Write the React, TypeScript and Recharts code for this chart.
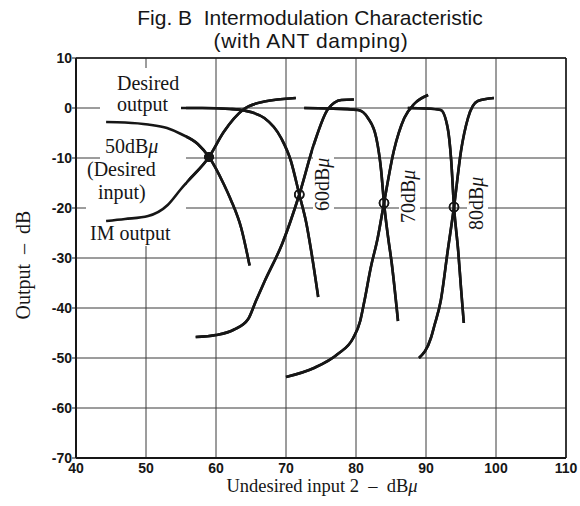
import { CartesianGrid, Line, LineChart, ReferenceDot, ReferenceLine, XAxis, YAxis } from "recharts";

const xTicks = [40, 50, 60, 70, 80, 90, 100, 110];
const yTicks = [10, 0, -10, -20, -30, -40, -50, -60, -70];

// desired output / IM output curves for each desired input (x = undesired input, y = output dB)
const des50 = [[44.3, -2.8], [47, -2.9], [50.3, -3.3], [53, -4], [55, -5.2], [57.4, -7.2], [59, -9.8], [61.1, -15.2], [62.1, -18.3], [63.6, -24], [64.8, -31.5]];
const im50 = [[44.3, -22.6], [47, -22.2], [50.3, -21.6], [53.1, -19.4], [55, -16.2], [56, -14.6], [59, -9.8], [61.1, -4.8], [63.9, -0.3], [66.9, 1.3], [71.4, 2]];
const des60 = [[55, 0], [58, 0], [62, -0.2], [64, -0.5], [66.9, -2], [69.3, -6], [70.7, -10.6], [71.9, -17.3], [72.9, -23], [73.6, -28.6], [74.6, -37.8]];
const im60 = [[57.1, -45.8], [60, -45.4], [62.6, -44.3], [64.6, -42.2], [65.7, -38.6], [66.9, -34.8], [69.5, -27], [71.9, -17.3], [74, -7.2], [76, -0.2], [77.9, 1.6], [79.7, 1.7]];
const des70 = [[72.6, 0], [76, -0.1], [80.3, -0.4], [81.7, -2], [82.9, -6], [83.6, -12.6], [84, -19], [84.6, -26], [85.1, -31], [86, -42.6]];
const im70 = [[70, -53.8], [74, -52], [77.4, -49.2], [79.6, -46], [80.6, -42.6], [81.2, -38.6], [82.1, -32], [83.1, -26], [84, -19], [85.4, -8.6], [86.9, -2], [88.3, 0.8], [90.3, 2.6]];
const des80 = [[87.4, 0], [90, -0.1], [92.1, -0.4], [93.1, -4], [93.6, -10.5], [94, -19.8], [94.6, -28.6], [95, -36], [95.4, -43]];
const im80 = [[89, -50], [90.7, -46], [91.2, -43.5], [92.1, -38.6], [93.1, -28.6], [94, -19.8], [95, -8.6], [96, -2], [97.4, 1.4], [99.7, 2]];

const curves = [des50, im50, des60, im60, des70, im70, des80, im80];
const crossFilled = [[59, -9.8]];
const crossOpen = [[71.9, -17.3], [84, -19], [94, -19.8]];

const W = 580;
const H = 506;
const margin = { top: 58, right: 14, bottom: 18, left: 0 };
const ink = "#161616";
const serif = "'Liberation Serif', 'Times New Roman', serif";
const sans = "'Liberation Sans', Arial, sans-serif";
const sp = "\u00a0";

const toPts = (c: number[][]) => c.map(([x, y]) => ({ x, y }));

const Axes = ({ show }: { show: boolean }) => (
  <>
    <XAxis
      dataKey="x"
      type="number"
      domain={[40, 110]}
      ticks={xTicks}
      height={30}
      axisLine={show ? { stroke: ink, strokeWidth: 2 } : false}
      tickLine={false}
      tickSize={3}
      tick={show ? { fill: ink, fontSize: 14, fontWeight: 700, fontFamily: sans } : false}
      allowDataOverflow
    />
    <YAxis
      type="number"
      domain={[-70, 10]}
      ticks={yTicks}
      width={76}
      axisLine={show ? { stroke: ink, strokeWidth: 2 } : false}
      tickLine={show ? { stroke: ink } : false}
      tickSize={4}
      tickMargin={0}
      tick={show ? { fill: ink, fontSize: 14, fontWeight: 700, fontFamily: sans } : false}
      allowDataOverflow
    />
  </>
);

const Curves = () => (
  <>
    {curves.map((c, i) => (
      <Line
        key={i}
        data={toPts(c)}
        dataKey="y"
        type="monotone"
        stroke={ink}
        strokeWidth={2.6}
        dot={false}
        isAnimationActive={false}
      />
    ))}
    {crossFilled.map(([x, y], i) => (
      <ReferenceDot key={"f" + i} x={x} y={y} r={4.5} fill={ink} stroke={ink} />
    ))}
    {crossOpen.map(([x, y], i) => (
      <ReferenceDot key={"o" + i} x={x} y={y} r={4.5} fill="none" stroke={ink} strokeWidth={1.6} />
    ))}
  </>
);

const masks = [
  [100, 68, 86, 178],
  [86, 160, 14, 86],
  [313, 145, 21, 67],
  [399, 170, 21, 54],
  [467, 166, 21, 66],
];

const layer: React.CSSProperties = { position: "absolute", left: 0, top: 0 };

export default function App() {
  return (
    <div style={{ ...layer, width: W, height: H, background: "#fff" }}>
      <div style={layer}>
        <LineChart width={W} height={H} margin={margin}>
          <CartesianGrid stroke="#3a3a3a" strokeWidth={1} />
          <Axes show />
          <ReferenceLine y={10} stroke={ink} strokeWidth={1.5} />
          <ReferenceLine x={110} stroke={ink} strokeWidth={1.5} />
          <Curves />
        </LineChart>
      </div>
      <svg style={layer} width={W} height={H}>
        {masks.map(([x, y, w, h], i) => (
          <rect key={i} x={x} y={y} width={w} height={h} fill="#fff" />
        ))}
      </svg>
      <div style={layer}>
        <LineChart width={W} height={H} margin={margin}>
          <Axes show={false} />
          <Curves />
        </LineChart>
      </div>
      <svg style={layer} width={W} height={H}>
        <g fontFamily={sans} fontSize={21} fill={ink} textAnchor="middle">
          <text x={310} y={25}>{`Fig. B${sp}${sp}Intermodulation Characteristic`}</text>
          <text x={311} y={48} letterSpacing={0.6}>(with ANT damping)</text>
        </g>
        <g fontFamily={serif} fontSize={20} fill={ink}>
          <text x={117} y={90}>Desired</text>
          <text x={117} y={111}>output</text>
          <text x={105} y={153}>50dB<tspan fontStyle="italic">μ</tspan></text>
          <text x={87} y={176}>(Desired</text>
          <text x={98} y={199}>input)</text>
          <text x={90} y={240}>IM output</text>
          <text transform="translate(329,211) rotate(-90)">60dB<tspan fontStyle="italic">μ</tspan></text>
          <text transform="translate(415,223) rotate(-90)">70dB<tspan fontStyle="italic">μ</tspan></text>
          <text transform="translate(483,230) rotate(-90)">80dB<tspan fontStyle="italic">μ</tspan></text>
          <text x={322} y={492} fontSize={18.5} textAnchor="middle">
            {`Undesired input 2${sp}${sp}–${sp}${sp}dB`}<tspan fontStyle="italic">μ</tspan>
          </text>
          <text transform="translate(30,265) rotate(-90)" textAnchor="middle">{`Output${sp}${sp}–${sp}${sp}dB`}</text>
        </g>
      </svg>
    </div>
  );
}
